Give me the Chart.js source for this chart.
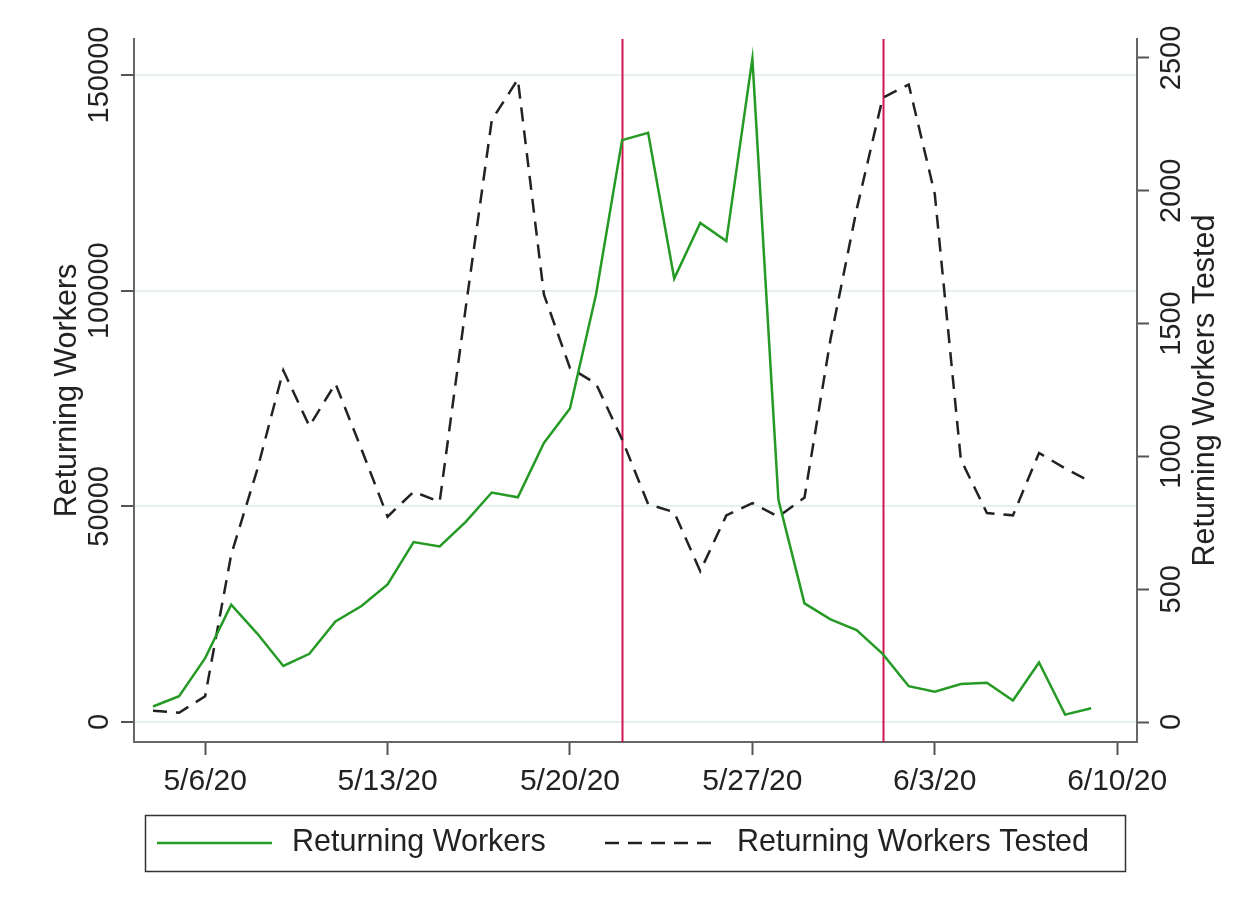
<!DOCTYPE html>
<html>
<head>
<meta charset="utf-8">
<script src="https://cdn.jsdelivr.net/npm/chart.js@4.4.1/dist/chart.umd.min.js"></script>
<style>
html,body{margin:0;padding:0;background:#fff}
#wrap{width:1256px;height:912px}
</style>
</head>
<body>
<div id="wrap"><canvas id="c" width="1256" height="912"></canvas></div>
<script>
// daily series, 5/4/20 .. 6/9/20
const dates=['5/4/20','5/5/20','5/6/20','5/7/20','5/8/20','5/9/20','5/10/20','5/11/20','5/12/20','5/13/20',
  '5/14/20','5/15/20','5/16/20','5/17/20','5/18/20','5/19/20','5/20/20','5/21/20','5/22/20','5/23/20',
  '5/24/20','5/25/20','5/26/20','5/27/20','5/28/20','5/29/20','5/30/20','5/31/20','6/1/20',
  '6/2/20','6/3/20','6/4/20','6/5/20','6/6/20','6/7/20','6/8/20','6/9/20'];
const workers=[3600,6000,14800,27200,20500,13000,15800,23300,26900,31900,
  41700,40700,46400,53200,52100,64700,72700,99100,134900,136600,
  102800,115700,111500,153800,51500,27500,23800,21300,15800,
  8300,7000,8800,9100,5000,13800,1700,3200];
const tested=[42,35,97,630,950,1324,1114,1274,1027,773,
  867,829,1560,2266,2420,1610,1333,1274,1064,820,
  790,568,778,824,773,845,1442,1929,2350,
  2400,1988,988,787,778,1013,955,904];
const xTickLabels=['5/6/20','5/13/20','5/20/20','5/27/20','6/3/20','6/10/20'];
const leftTicks=[0,50000,100000,150000];
const rightTicks=[0,500,1000,1500,2000,2500];
const markerDates=['5/22/20','6/1/20'];

const FONT="'Liberation Sans', Arial, Helvetica, sans-serif";
const FS=29;      // tick labels
const FT=30.5;    // titles + legend
const dayOf=s=>{const p=s.split('/').map(Number),q=dates[0].split('/').map(Number);
  return Math.round((Date.UTC(2000+p[2],p[0]-1,p[1])-Date.UTC(2000+q[2],q[0]-1,q[1]))/864e5)};

const decor={
  id:'decor',
  beforeDatasetsDraw(chart){
    const {ctx,chartArea:a,scales:{x}}=chart;
    ctx.save();
    ctx.strokeStyle='#cf1650';ctx.lineWidth=2;
    markerDates.forEach(d=>{
      const px=Math.round(x.getPixelForValue(dayOf(d)))+0.5;
      ctx.beginPath();ctx.moveTo(px,a.top);ctx.lineTo(px,a.bottom);ctx.stroke();
    });
    ctx.restore();
  },
  afterDraw(chart){
    const {ctx,chartArea:a,scales:{y,y1}}=chart;
    const mid=(a.top+a.bottom)/2;
    ctx.save();
    ctx.fillStyle='#222';
    ctx.textAlign='center';ctx.textBaseline='middle';
    const vtext=(t,cx,cy)=>{ctx.save();ctx.translate(cx,cy);ctx.rotate(-Math.PI/2);ctx.fillText(t,0,0);ctx.restore()};
    ctx.font=FS+'px '+FONT;
    y.ticks.forEach(t=>vtext(String(t.value),100,y.getPixelForValue(t.value)));
    y1.ticks.forEach(t=>vtext(String(t.value),1172,y1.getPixelForValue(t.value)));
    ctx.font=FT+'px '+FONT;
    vtext('Returning Workers',68,mid);
    vtext('Returning Workers Tested',1206,mid);
    // legend
    ctx.strokeStyle='#333';ctx.lineWidth=1.5;
    ctx.strokeRect(145.5,815.5,980,56);
    const ly=843;
    ctx.lineWidth=2.5;
    ctx.strokeStyle='#259a25';
    ctx.beginPath();ctx.moveTo(157,ly);ctx.lineTo(272,ly);ctx.stroke();
    ctx.strokeStyle='#222';ctx.setLineDash([14,9]);
    ctx.beginPath();ctx.moveTo(605,ly);ctx.lineTo(720,ly);ctx.stroke();
    ctx.setLineDash([]);
    ctx.textAlign='left';
    ctx.fillText('Returning Workers',292,ly);
    ctx.fillText('Returning Workers Tested',737,ly);
    ctx.restore();
  }
};

const ctx=document.getElementById('c').getContext('2d');
new Chart(ctx,{
  type:'line',
  data:{datasets:[
    {label:'Returning Workers',data:dates.map((d,i)=>({x:dayOf(d),y:workers[i]})),yAxisID:'y',
     borderColor:'#259a25',borderWidth:2.5,pointRadius:0,tension:0},
    {label:'Returning Workers Tested',data:dates.map((d,i)=>({x:dayOf(d),y:tested[i]})),yAxisID:'y1',
     borderColor:'#222',borderWidth:2.5,borderDash:[14,9],pointRadius:0,tension:0}
  ]},
  options:{
    responsive:false,animation:false,devicePixelRatio:1,
    layout:{padding:{top:39,left:0,right:0,bottom:0}},
    plugins:{legend:{display:false},tooltip:{enabled:false}},
    scales:{
      x:{type:'linear',min:-0.73,max:37.76,
        afterBuildTicks:s=>{s.ticks=xTickLabels.map(l=>({value:dayOf(l)}))},
        afterFit:s=>{s.height=170},
        ticks:{callback:(v,i)=>xTickLabels[i],autoSkip:false,maxRotation:0,color:'#222',padding:9,
          font:{size:30,family:FONT}},
        grid:{drawOnChartArea:false,drawTicks:true,tickLength:13,tickColor:'#555',tickWidth:2},
        border:{display:true,color:'#666',width:2}},
      y:{position:'left',min:-4637,max:158346,
        afterBuildTicks:s=>{s.ticks=leftTicks.map(v=>({value:v}))},
        afterFit:s=>{s.width=134},
        ticks:{display:false},
        grid:{color:'#e6eff1',lineWidth:2,drawTicks:true,tickLength:13,tickColor:'#555',tickWidth:2},
        border:{display:true,color:'#666',width:2}},
      y1:{position:'right',min:-75.3,max:2571.5,
        afterBuildTicks:s=>{s.ticks=rightTicks.map(v=>({value:v}))},
        afterFit:s=>{s.width=119},
        ticks:{display:false},
        grid:{drawOnChartArea:false,drawTicks:true,tickLength:12,tickColor:'#555',tickWidth:2},
        border:{display:true,color:'#666',width:2}}
    }
  },
  plugins:[decor]
});
</script>
</body>
</html>
